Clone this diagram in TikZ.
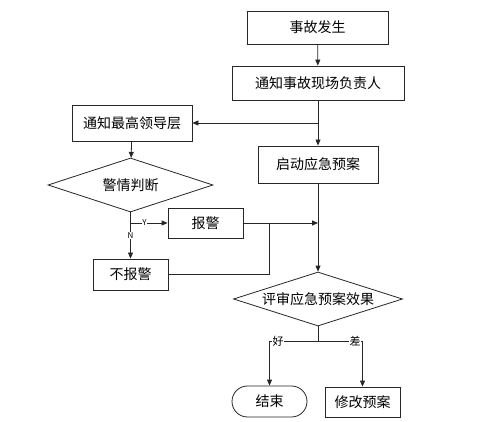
\documentclass[tikz,border=0pt]{standalone}
\usepackage{fontspec}
\setmainfont{Noto Sans CJK SC}
\usetikzlibrary{shapes.geometric,shapes.misc,arrows.meta}
\begin{document}
\begin{tikzpicture}[x=1pt,y=1pt,
  txt/.style={font=\fontsize{14}{16}\selectfont},
  box/.style={txt,draw=black!85,line width=0.8pt,rectangle,inner sep=0pt},
  dia/.style={txt,draw=black!85,line width=0.8pt,diamond,aspect=3,inner sep=0pt},
  term/.style={txt,draw=black!85,line width=0.8pt,rounded rectangle,inner sep=0pt},
  conn/.style={draw=black!85,line width=0.8pt},
  arr/.style={conn,-{Triangle[length=6pt,width=5pt]}},
  lab/.style={fill=white,inner sep=0.5pt,font=\fontsize{8}{9}\selectfont},
  clab/.style={fill=white,inner sep=0.5pt,font=\fontsize{11}{12}\selectfont}]
\useasboundingbox (0,0) rectangle (493,-422);
\node[box,minimum width=141pt,minimum height=33pt] (a) at (317.5,-27.5) {事故发生};
\node[box,minimum width=172pt,minimum height=34pt] (b) at (318,-83) {通知事故现场负责人};
\node[box,minimum width=120pt,minimum height=36pt] (c) at (132,-123) {通知最高领导层};
\node[box,minimum width=120pt,minimum height=37pt] (d) at (318,-164.5) {启动应急预案};
\node[dia,minimum width=165pt,minimum height=54pt] (e) at (130.5,-185) {警情判断};
\node[box,minimum width=75pt,minimum height=30pt] (f) at (205.5,-223) {报警};
\node[box,minimum width=75pt,minimum height=31pt] (g) at (130.5,-274.5) {不报警};
\node[dia,minimum width=169pt,minimum height=54pt] (h) at (318,-299) {评审应急预案效果};
\node[term,minimum width=75pt,minimum height=31pt] (i) at (269.5,-401.5) {结束};
\node[box,minimum width=75pt,minimum height=30pt] (j) at (362.5,-402) {修改预案};
\coordinate (p1) at (318,-123);
\coordinate (p2) at (318,-223);
\coordinate (p3) at (130.5,-223);
\coordinate (p4) at (269,-223);
\coordinate (p5) at (269,-274.5);
\coordinate (k) at (318,-341);
\coordinate (kl) at (269.5,-341);
\coordinate (kr) at (362.5,-341);
\draw[arr] (a) -- (b);
\draw[arr] (b) -- (d);
\draw[arr] (p1) -- (c.east);
\draw[arr] (c) -- (e);
\draw[arr] (e.south) -- (g.north) node[lab,pos=0.5] {N};
\draw[arr] (p3) -- (f.west) node[lab,pos=0.38] {Y};
\draw[arr] (f.east) -- (p2);
\draw[conn] (g.east) -- (p5) -- (p4);
\draw[arr] (d) -- (h);
\draw[conn] (h.south) -- (k);
\draw[arr] (k) -- (kl) -- (i.north);
\draw[arr] (k) -- (kr) -- (j.north);
\node[clab] (lg) at (278,-341) {好};
\node[clab] (lb) at (355,-341) {差};
\end{tikzpicture}
\end{document}
